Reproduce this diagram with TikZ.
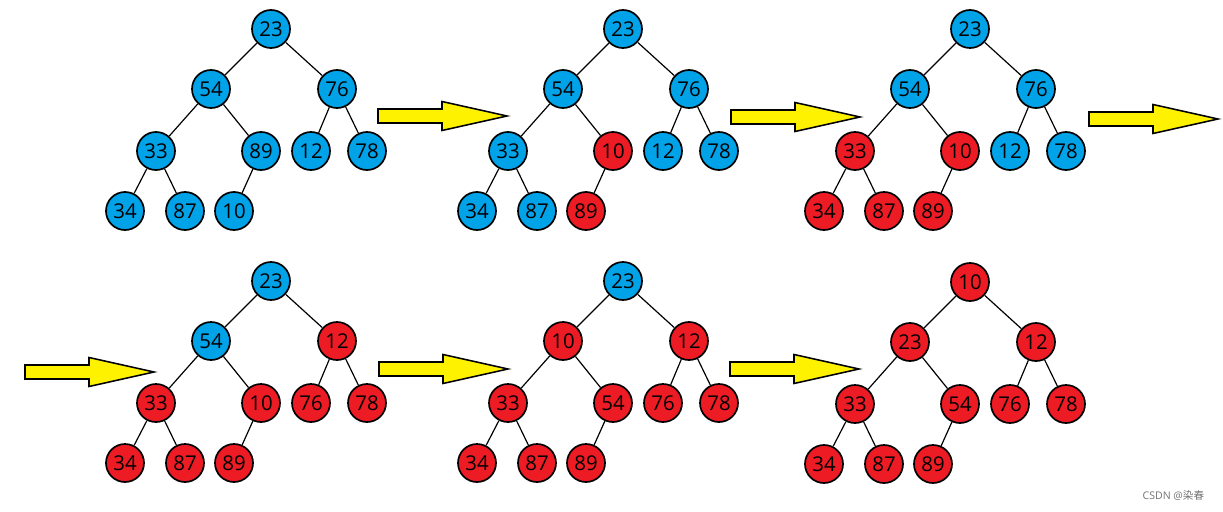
\documentclass[tikz,border=0pt]{standalone}
\usepackage{fontspec}
\setmainfont{Open Sans}
\newfontfamily\cjkfont{Noto Sans CJK SC}
\definecolor{heapBlue}{HTML}{00A2E8}
\definecolor{heapRed}{HTML}{ED1C24}
\definecolor{arrowYellow}{HTML}{FFF200}

\begin{document}
\begin{tikzpicture}[
  x=0.025cm, y=-0.025cm,
  font=\fontsize{14.5}{15}\selectfont,
  key/.style={circle, draw=black, line width=1.2pt, minimum size=0.95cm, inner sep=0pt},
  untouched/.style={key, fill=heapBlue},
  sifted/.style={key, fill=heapRed},
  branch/.style={draw=black, line width=0.85pt},
  pointer/.style={draw=black, line width=1.1pt, fill=arrowYellow, line join=miter}
]
\useasboundingbox (0,0) rectangle (1223,512);
\newcommand{\heaptree}[3]{%
  \begin{scope}[shift={#1}]
    \coordinate (#2p1) at (0,0);
    \coordinate (#2p2) at (-60,60);
    \coordinate (#2p3) at (66,60);
    \coordinate (#2p4) at (-115,122);
    \coordinate (#2p5) at (-10,122);
    \coordinate (#2p6) at (40,122);
    \coordinate (#2p7) at (96,122);
    \coordinate (#2p8) at (-146,182);
    \coordinate (#2p9) at (-86,182);
    \coordinate (#2p10) at (-37,182);
  \end{scope}
  \foreach \val/\kind [count=\i] in {#3}
    \node[\kind] (#2n\i) at (#2p\i) {\val};
  \foreach \a/\b in {1/2,1/3,2/4,2/5,3/6,3/7,4/8,4/9,5/10}
    \draw[branch] (#2n\a) -- (#2n\b);
}
\newcommand{\fillarrow}[2]{%
  \draw[pointer] (#1,#2-7) -- (#1+64,#2-7) -- (#1+64,#2-14.5) -- (#1+129,#2)
    -- (#1+64,#2+14.5) -- (#1+64,#2+7) -- (#1,#2+7) -- cycle;
}

% first row
\heaptree{(271,29)}{a}{23/untouched,54/untouched,76/untouched,33/untouched,89/untouched,
  12/untouched,78/untouched,34/untouched,87/untouched,10/untouched}
\heaptree{(623,29)}{b}{23/untouched,54/untouched,76/untouched,33/untouched,10/sifted,
  12/untouched,78/untouched,34/untouched,87/untouched,89/sifted}
\heaptree{(970,29)}{c}{23/untouched,54/untouched,76/untouched,33/sifted,10/sifted,
  12/untouched,78/untouched,34/sifted,87/sifted,89/sifted}

% second row
\heaptree{(271,281)}{d}{23/untouched,54/untouched,12/sifted,33/sifted,10/sifted,
  76/sifted,78/sifted,34/sifted,87/sifted,89/sifted}
\heaptree{(623,281)}{e}{23/untouched,10/sifted,12/sifted,33/sifted,54/sifted,
  76/sifted,78/sifted,34/sifted,87/sifted,89/sifted}
\heaptree{(970,282)}{f}{10/sifted,23/sifted,12/sifted,33/sifted,54/sifted,
  76/sifted,78/sifted,34/sifted,87/sifted,89/sifted}

\fillarrow{378}{116}
\fillarrow{731}{117}
\fillarrow{1089}{119}
\fillarrow{25}{372}
\fillarrow{379}{369}
\fillarrow{730}{369}

\node[anchor=east, text=black!55, font=\fontsize{7.5}{8}\selectfont] (credit) at (1209,496) {CSDN @{\cjkfont 染春}};
\end{tikzpicture}
\end{document}
